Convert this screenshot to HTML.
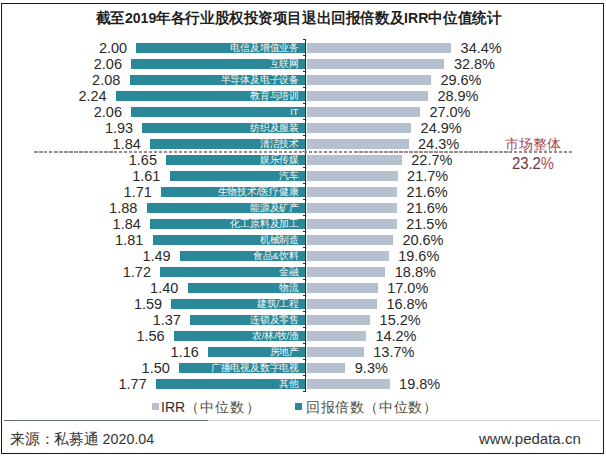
<!DOCTYPE html>
<html><head><meta charset="utf-8">
<style>
html,body{margin:0;padding:0;background:#fff;}
body{width:606px;height:457px;position:relative;overflow:hidden;font-family:"Liberation Sans",sans-serif;}
.frame{position:absolute;left:1px;top:3px;width:601px;height:449px;border:1px solid #1a1a1a;}
.title{position:absolute;left:0;width:597px;text-align:center;top:8px;font-size:14.5px;transform:scaleX(0.972);transform-origin:298.5px 0;font-weight:bold;color:#1e1e1e;white-space:nowrap;line-height:20px;}
.tb{position:absolute;height:10px;background:#2b8898;}
.gb{position:absolute;left:307px;height:10px;background:#b5c1cf;}
.vl{position:absolute;font-size:14.5px;color:#2a2a2a;line-height:16px;white-space:nowrap;}
.pl{position:absolute;font-size:14.5px;color:#2a2a2a;line-height:16px;white-space:nowrap;}
.nl{position:absolute;right:307.5px;font-size:9.5px;font-weight:500;transform:scaleX(0.98);transform-origin:100% 50%;color:#f2f6f6;line-height:10px;white-space:nowrap;}
.axis{position:absolute;left:305px;top:39px;width:1.4px;height:353px;background:#1a3034;}
.tk{position:absolute;left:302.5px;width:3px;height:1px;background:#1d2d30;}
.dash{position:absolute;left:34px;top:151.2px;width:540px;height:1.4px;background:repeating-linear-gradient(90deg,#a08890 0 3.5px,transparent 3.5px 5px);}
.mkt{position:absolute;left:483px;width:100px;text-align:center;top:137px;font-size:14px;color:#a84856;line-height:14px;white-space:nowrap;}
.mktv{position:absolute;left:483px;width:100px;text-align:center;top:155.5px;font-size:16px;color:#6a3540;transform:scaleX(0.93);transform-origin:50px 0;line-height:16px;white-space:nowrap;}
.leg{position:absolute;top:399px;font-size:14px;color:#4d4d4d;line-height:16px;white-space:nowrap;}
.sq{position:absolute;top:403px;width:7px;height:7px;}
.sep1{position:absolute;left:4px;top:420px;width:204px;height:1px;background:#5f6b6e;}
.sep2{position:absolute;left:208px;top:420px;width:392px;height:1px;background:#cfcfcf;}
.foot{position:absolute;top:430px;font-size:14.5px;color:#333;line-height:18px;white-space:nowrap;}
</style></head><body>
<div class="frame"></div>
<div class="title">截至2019年各行业股权投资项目退出回报倍数及IRR中位值统计</div>
<div class="tb" style="top:43px;left:136.4px;width:169.1px"></div><div class="gb" style="top:43px;width:144.1px"></div><div class="vl" style="top:39.9px;right:478.9px">2.00</div><div class="pl" style="top:40px;left:460.6px">34.4%</div><div class="nl" style="top:43px">电信及增值业务</div><div class="tb" style="top:59px;left:131.3px;width:174.2px"></div><div class="gb" style="top:59px;width:137.4px"></div><div class="vl" style="top:55.9px;right:484.0px">2.06</div><div class="pl" style="top:56px;left:453.9px">32.8%</div><div class="nl" style="top:59px">互联网</div><div class="tb" style="top:75px;left:129.6px;width:175.9px"></div><div class="gb" style="top:75px;width:123.9px"></div><div class="vl" style="top:71.9px;right:485.7px">2.08</div><div class="pl" style="top:72px;left:440.4px">29.6%</div><div class="nl" style="top:75px">半导体及电子设备</div><div class="tb" style="top:91px;left:115.9px;width:189.6px"></div><div class="gb" style="top:91px;width:120.9px"></div><div class="vl" style="top:87.9px;right:499.4px">2.24</div><div class="pl" style="top:88px;left:437.4px">28.9%</div><div class="nl" style="top:91px">教育与培训</div><div class="tb" style="top:107px;left:131.3px;width:174.2px"></div><div class="gb" style="top:107px;width:112.9px"></div><div class="vl" style="top:103.9px;right:484.0px">2.06</div><div class="pl" style="top:104px;left:429.4px">27.0%</div><div class="nl" style="top:107px">IT</div><div class="tb" style="top:123px;left:142.4px;width:163.1px"></div><div class="gb" style="top:123px;width:104.1px"></div><div class="vl" style="top:119.9px;right:472.9px">1.93</div><div class="pl" style="top:120px;left:420.6px">24.9%</div><div class="nl" style="top:123px">纺织及服装</div><div class="tb" style="top:139px;left:150.1px;width:155.4px"></div><div class="gb" style="top:139px;width:101.5px"></div><div class="vl" style="top:135.9px;right:465.2px">1.84</div><div class="pl" style="top:136px;left:418.0px">24.3%</div><div class="nl" style="top:139px">清洁技术</div><div class="tb" style="top:155px;left:166.3px;width:139.2px"></div><div class="gb" style="top:155px;width:94.8px"></div><div class="vl" style="top:151.9px;right:449.0px">1.65</div><div class="pl" style="top:152px;left:411.3px">22.7%</div><div class="nl" style="top:155px">娱乐传媒</div><div class="tb" style="top:171px;left:169.7px;width:135.8px"></div><div class="gb" style="top:171px;width:90.6px"></div><div class="vl" style="top:167.9px;right:445.6px">1.61</div><div class="pl" style="top:168px;left:407.1px">21.7%</div><div class="nl" style="top:171px">汽车</div><div class="tb" style="top:187px;left:161.1px;width:144.4px"></div><div class="gb" style="top:187px;width:90.1px"></div><div class="vl" style="top:183.9px;right:454.2px">1.71</div><div class="pl" style="top:184px;left:406.6px">21.6%</div><div class="nl" style="top:187px">生物技术/医疗健康</div><div class="tb" style="top:203px;left:146.6px;width:158.9px"></div><div class="gb" style="top:203px;width:90.1px"></div><div class="vl" style="top:199.9px;right:468.7px">1.88</div><div class="pl" style="top:200px;left:406.6px">21.6%</div><div class="nl" style="top:203px">能源及矿产</div><div class="tb" style="top:219px;left:150.1px;width:155.4px"></div><div class="gb" style="top:219px;width:89.7px"></div><div class="vl" style="top:215.9px;right:465.2px">1.84</div><div class="pl" style="top:216px;left:406.2px">21.5%</div><div class="nl" style="top:219px">化工原料及加工</div><div class="tb" style="top:235px;left:152.6px;width:152.9px"></div><div class="gb" style="top:235px;width:85.9px"></div><div class="vl" style="top:231.9px;right:462.7px">1.81</div><div class="pl" style="top:232px;left:402.4px">20.6%</div><div class="nl" style="top:235px">机械制造</div><div class="tb" style="top:251px;left:179.9px;width:125.6px"></div><div class="gb" style="top:251px;width:81.7px"></div><div class="vl" style="top:247.9px;right:435.4px">1.49</div><div class="pl" style="top:248px;left:398.2px">19.6%</div><div class="nl" style="top:251px">食品&amp;饮料</div><div class="tb" style="top:267px;left:160.3px;width:145.2px"></div><div class="gb" style="top:267px;width:78.3px"></div><div class="vl" style="top:263.9px;right:455.0px">1.72</div><div class="pl" style="top:264px;left:394.8px">18.8%</div><div class="nl" style="top:267px">金融</div><div class="tb" style="top:283px;left:187.6px;width:117.9px"></div><div class="gb" style="top:283px;width:70.7px"></div><div class="vl" style="top:279.9px;right:427.7px">1.40</div><div class="pl" style="top:280px;left:387.2px">17.0%</div><div class="nl" style="top:283px">物流</div><div class="tb" style="top:299px;left:171.4px;width:134.1px"></div><div class="gb" style="top:299px;width:69.9px"></div><div class="vl" style="top:295.9px;right:443.9px">1.59</div><div class="pl" style="top:296px;left:386.4px">16.8%</div><div class="nl" style="top:299px">建筑/工程</div><div class="tb" style="top:315px;left:190.2px;width:115.3px"></div><div class="gb" style="top:315px;width:63.1px"></div><div class="vl" style="top:311.9px;right:425.1px">1.37</div><div class="pl" style="top:312px;left:379.6px">15.2%</div><div class="nl" style="top:315px">连锁及零售</div><div class="tb" style="top:331px;left:173.9px;width:131.6px"></div><div class="gb" style="top:331px;width:58.9px"></div><div class="vl" style="top:327.9px;right:441.4px">1.56</div><div class="pl" style="top:328px;left:375.4px">14.2%</div><div class="nl" style="top:331px">农/林/牧/渔</div><div class="tb" style="top:347px;left:208.1px;width:97.4px"></div><div class="gb" style="top:347px;width:56.8px"></div><div class="vl" style="top:343.9px;right:407.2px">1.16</div><div class="pl" style="top:344px;left:373.3px">13.7%</div><div class="nl" style="top:347px">房地产</div><div class="tb" style="top:363px;left:179.1px;width:126.4px"></div><div class="gb" style="top:363px;width:38.3px"></div><div class="vl" style="top:359.9px;right:436.2px">1.50</div><div class="pl" style="top:360px;left:354.8px">9.3%</div><div class="nl" style="top:363px">广播电视及数字电视</div><div class="tb" style="top:379px;left:156.0px;width:149.5px"></div><div class="gb" style="top:379px;width:82.6px"></div><div class="vl" style="top:375.9px;right:459.3px">1.77</div><div class="pl" style="top:376px;left:399.1px">19.8%</div><div class="nl" style="top:379px">其他</div>
<div class="axis"></div>
<div class="tk" style="top:39px"></div><div class="tk" style="top:55px"></div><div class="tk" style="top:71px"></div><div class="tk" style="top:87px"></div><div class="tk" style="top:103px"></div><div class="tk" style="top:119px"></div><div class="tk" style="top:135px"></div><div class="tk" style="top:151px"></div><div class="tk" style="top:167px"></div><div class="tk" style="top:183px"></div><div class="tk" style="top:199px"></div><div class="tk" style="top:215px"></div><div class="tk" style="top:231px"></div><div class="tk" style="top:247px"></div><div class="tk" style="top:263px"></div><div class="tk" style="top:279px"></div><div class="tk" style="top:295px"></div><div class="tk" style="top:311px"></div><div class="tk" style="top:327px"></div><div class="tk" style="top:343px"></div><div class="tk" style="top:359px"></div><div class="tk" style="top:375px"></div><div class="tk" style="top:391px"></div>
<div class="dash"></div>
<div class="mkt">市场整体</div>
<div class="mktv">23.2<span style="color:#b04a5a">%</span></div>
<div class="sq" style="left:152px;background:#b5c1cf"></div>
<div class="leg" style="left:161px"><span style="color:#2e2e2e">IRR</span><span style="letter-spacing:1.1px">（中位数）</span></div>
<div class="sq" style="left:295px;background:#2b8898"></div>
<div class="leg" style="left:306px;letter-spacing:0.6px">回报倍数（中位数）</div>
<div class="sep1"></div><div class="sep2"></div>
<div class="foot" style="left:10px;transform:scaleX(0.985);transform-origin:0 0">来源：私募通 2020.04</div>
<div class="foot" style="left:479px;font-size:15px">www.pedata.cn</div>
</body></html>
